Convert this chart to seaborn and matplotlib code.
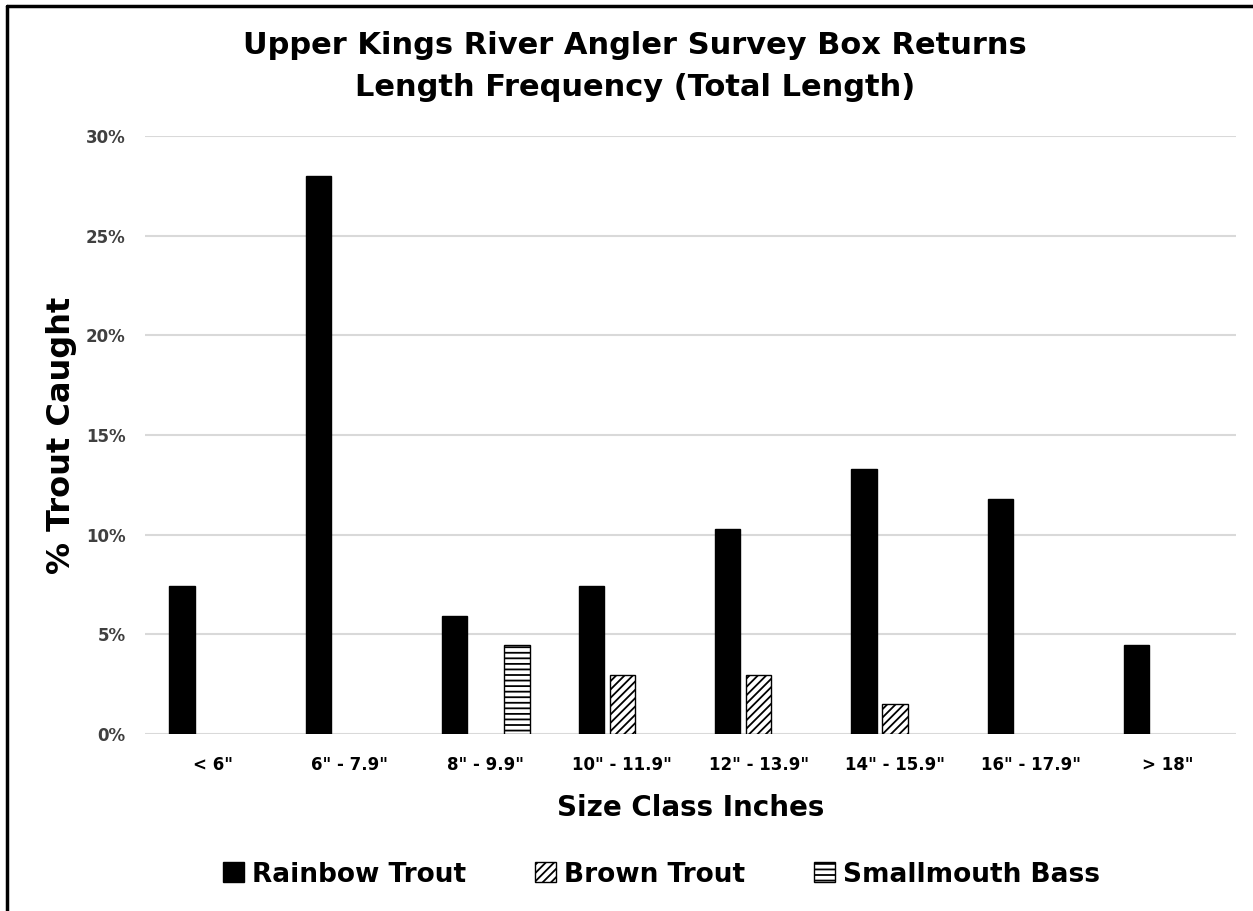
import pandas as pd
import matplotlib.pyplot as plt
import matplotlib.patches as mpatches
from matplotlib.ticker import PercentFormatter
import seaborn as sns

size_classes = ['< 6"', '6" - 7.9"', '8" - 9.9"', '10" - 11.9"',
                '12" - 13.9"', '14" - 15.9"', '16" - 17.9"', '> 18"']
species = ["Rainbow Trout", "Brown Trout", "Smallmouth Bass"]
rainbow = [7.4, 28.0, 5.9, 7.4, 10.3, 13.3, 11.8, 4.45]
brown = [0, 0, 0, 2.95, 2.95, 1.5, 0, 0]
smallmouth = [0, 0, 4.45, 0, 0, 0, 0, 0]

df = pd.DataFrame({
    "size": size_classes * 3,
    "species": [s for s in species for _ in size_classes],
    "pct": rainbow + brown + smallmouth,
})

sns.set_style("white")
plt.rcParams["font.family"] = ["DejaVu Sans"]
plt.rcParams["font.weight"] = "bold"
plt.rcParams["text.color"] = "black"
plt.rcParams["axes.labelcolor"] = "black"
plt.rcParams["hatch.linewidth"] = 1.3

fig = plt.figure(figsize=(12.53, 9.11), dpi=100)
ax = fig.add_axes([0.1157, 0.1943, 0.8707, 0.6564])

palette = {"Rainbow Trout": "black", "Brown Trout": "white", "Smallmouth Bass": "white"}
sns.barplot(data=df, x="size", y="pct", hue="species", hue_order=species,
            order=size_classes, palette=palette, width=0.684, gap=0.19,
            edgecolor="black", linewidth=1, saturation=1, legend=False, ax=ax)

hatches = ["", "////", "---"]
for cont, h in zip(ax.containers, hatches):
    for bar in cont:
        bar.set_hatch(h)
        if bar.get_height() == 0:
            bar.set_linewidth(0)
            bar.set_edgecolor("none")

ax.set_ylim(0, 30)
ax.set_yticks(range(0, 31, 5))
ax.yaxis.set_major_formatter(PercentFormatter(decimals=0))
ax.grid(axis="y", color="#d9d9d9", linewidth=1.5)
ax.set_axisbelow(True)
sns.despine(ax=ax, left=True, bottom=True)
ax.tick_params(axis="both", length=0)
ax.tick_params(axis="y", labelsize=12, labelcolor="#404040", pad=14)
ax.tick_params(axis="x", labelsize=12, labelcolor="black", pad=16)
for lbl in ax.get_xticklabels() + ax.get_yticklabels():
    lbl.set_fontweight("bold")

ax.set_xlabel("Size Class Inches", fontsize=20, fontweight="bold", labelpad=14)
ax.set_ylabel("% Trout Caught", fontsize=23, fontweight="bold", labelpad=6)

fig.text(0.507, 0.927, "Upper Kings River Angler Survey Box Returns\nLength Frequency (Total Length)",
         ha="center", va="center", fontsize=22, fontweight="bold", linespacing=1.55)

handles = [mpatches.Patch(facecolor="black", edgecolor="black", label="Rainbow Trout"),
           mpatches.Patch(facecolor="white", edgecolor="black", hatch="////", label="Brown Trout"),
           mpatches.Patch(facecolor="white", edgecolor="black", hatch="---", label="Smallmouth Bass")]
fig.legend(handles=handles, loc="center", bbox_to_anchor=(0.528, 0.04), ncol=3, frameon=False,
           prop={"size": 19, "weight": "bold"}, handlelength=0.8, handleheight=0.8,
           handletextpad=0.3, columnspacing=2.6)

# outer frame (left and top edges)
fig.add_artist(plt.Line2D([0.0056, 0.0056], [0, 0.9934], color="black", linewidth=2.5,
                          transform=fig.transFigure))
fig.add_artist(plt.Line2D([0.0056, 1], [0.9934, 0.9934], color="black", linewidth=2.5,
                          transform=fig.transFigure))

fig.savefig("out.png", dpi=100)
